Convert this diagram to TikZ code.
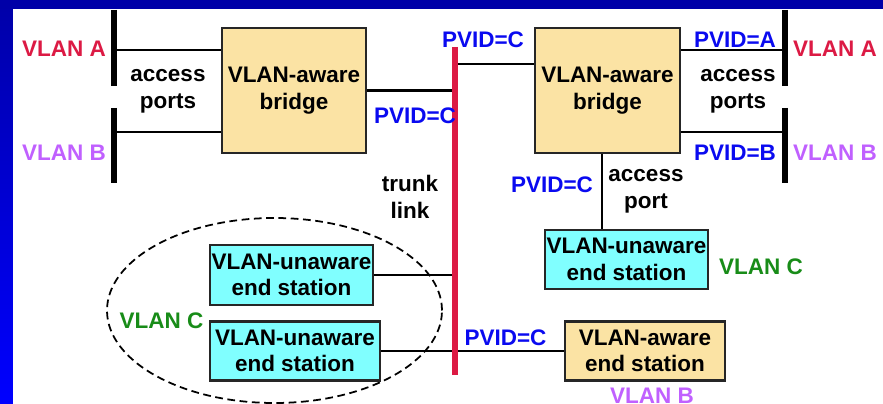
\documentclass[tikz,border=0pt]{standalone}
\usepackage{fontspec}
\setmainfont{Liberation Sans}
\definecolor{vlanred}{HTML}{DC1A44}
\definecolor{vlanviolet}{HTML}{C060FF}
\definecolor{vlangreen}{HTML}{188C18}
\definecolor{pvidblue}{HTML}{0A0AF0}
\definecolor{awaretan}{HTML}{FBE3A4}
\definecolor{unawarecyan}{HTML}{80FFFF}
\definecolor{framedark}{HTML}{0000A8}
\definecolor{framebright}{HTML}{0000FF}
\begin{document}
\begin{tikzpicture}[
    lbl/.style={font=\fontsize{6.4}{7.6}\selectfont\bfseries, inner sep=0pt, align=center},
    awarebox/.style={lbl, draw=black!85, line width=0.7pt, fill=awaretan},
    unawarebox/.style={lbl, draw=black!85, line width=0.7pt, fill=unawarecyan},
    wire/.style={line width=0.8pt},
    bar/.style={line width=1.6pt},
    pvid/.style={lbl, text=pvidblue}]
    % frame
    \useasboundingbox (0,0) rectangle (8.83,4.04);
    \shade[top color=framedark, bottom color=framebright] (0,0) rectangle (8.83,4.04);
    \fill[framedark] (0,3.95) rectangle (8.83,4.04);
    \fill[white] (0.13,0) rectangle (8.83,3.95);

    % VLAN C group
    \draw[dash pattern=on 2.2pt off 1.3pt, line width=0.5pt] (2.745,0.935) ellipse (1.675 and 0.925);

    % bridges and stations
    \node[awarebox, minimum width=1.44cm, minimum height=1.25cm] (brL) at (2.94,3.135) {VLAN-aware\\bridge};
    \node[awarebox, minimum width=1.45cm, minimum height=1.25cm] (brR) at (6.075,3.135) {VLAN-aware\\bridge};
    \node[unawarebox, minimum width=1.63cm, minimum height=0.59cm] (stR) at (6.265,1.445) {VLAN-unaware\\end station};
    \node[unawarebox, minimum width=1.63cm, minimum height=0.60cm] (stL1) at (2.915,1.29) {VLAN-unaware\\end station};
    \node[unawarebox, minimum width=1.70cm, minimum height=0.59cm] (stL2) at (2.95,0.53) {VLAN-unaware\\end station};
    \node[awarebox, minimum width=1.60cm, minimum height=0.59cm] (stA) at (6.45,0.53) {VLAN-aware\\end station};

    \coordinate (lA) at (1.14,3.54);
    \coordinate (lB) at (1.14,2.72);
    \coordinate (rA) at (7.85,3.54);
    \coordinate (rB) at (7.85,2.72);
    \coordinate (trkT) at (4.55,3.57);
    \coordinate (trkB) at (4.55,0.29);

    % access ports
    \draw[wire] (lA) -- (lA -| brL.west);
    \draw[wire] (lB) -- (lB -| brL.west);
    \draw[wire] (rA) -- (rA -| brR.east);
    \draw[wire] (rB) -- (rB -| brR.east);
    \draw[wire] ([xshift=-0.55mm]brR.south) -- ([xshift=-0.55mm]brR.south |- stR.north);

    % trunk ports
    \draw[wire] (brL.east) -- (brL.east -| trkT);
    \draw[wire] ([yshift=2.65mm]brR.west) -- ([yshift=2.65mm]brR.west -| trkT);
    \draw[wire] (stL1.east) -- (stL1.east -| trkT);
    \draw[wire] (stL2.east) -- (stA.west);
    \draw[vlanred, line width=1.7pt] (trkT) -- (trkB);

    % LAN segments
    \draw[bar] (1.14,3.94) -- (1.14,3.18);
    \draw[bar] (1.14,2.96) -- (1.14,2.21);
    \draw[bar] (7.85,3.94) -- (7.85,3.18);
    \draw[bar] (7.85,2.96) -- (7.85,2.21);

    % labels
    \node[lbl, text=vlanred] (vaL) at (0.64,3.55) {VLAN A};
    \node[lbl, text=vlanviolet] (vbL) at (0.64,2.51) {VLAN B};
    \node[lbl, text=vlanred] (vaR) at (8.35,3.55) {VLAN A};
    \node[lbl, text=vlanviolet] (vbR) at (8.35,2.51) {VLAN B};
    \node[lbl] (apL) at (1.68,3.125) {access\\ports};
    \node[lbl] (apR) at (7.38,3.125) {access\\ports};
    \node[lbl] (apS) at (6.46,2.13) {access\\port};
    \node[lbl] (trk) at (4.10,2.07) {trunk\\link};
    \node[pvid] (pvL) at (4.15,2.88) {PVID=C};
    \node[pvid] (pvT) at (4.83,3.64) {PVID=C};
    \node[pvid] (pvA) at (7.35,3.64) {PVID=A};
    \node[pvid] (pvB) at (7.35,2.51) {PVID=B};
    \node[pvid] (pvS) at (5.52,2.19) {PVID=C};
    \node[pvid] (pvE) at (5.055,0.66) {PVID=C};
    \node[lbl, text=vlangreen] (vcR) at (7.61,1.37) {VLAN C};
    \node[lbl, text=vlangreen] (vcL) at (1.615,0.83) {VLAN C};
    \node[lbl, text=vlanviolet] (vbE) at (6.52,0.08) {VLAN B};
\end{tikzpicture}
\end{document}
